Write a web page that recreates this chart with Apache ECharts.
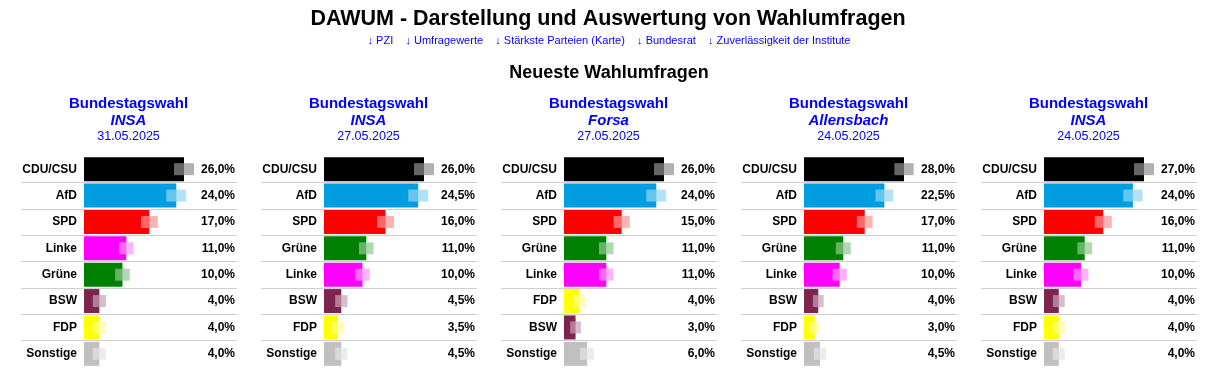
<!DOCTYPE html>
<html>
<head>
<meta charset="utf-8">
<script src="https://cdn.jsdelivr.net/npm/echarts@6/dist/echarts.min.js"></script>
<style>
  html, body { margin: 0; background: #fff; }
  #chart { width: 1214px; height: 375px; }
</style>
</head>
<body>
<div id="chart"></div>
<script>
// Umfragen (Reihenfolge wie im Bild)
const institutes = ['INSA', 'INSA', 'Forsa', 'Allensbach', 'INSA'];
const dates = ['31.05.2025', '27.05.2025', '27.05.2025', '24.05.2025', '24.05.2025'];
const parties = [
  ['CDU/CSU', 'AfD', 'SPD', 'Linke', 'Grüne', 'BSW', 'FDP', 'Sonstige'],
  ['CDU/CSU', 'AfD', 'SPD', 'Grüne', 'Linke', 'BSW', 'FDP', 'Sonstige'],
  ['CDU/CSU', 'AfD', 'SPD', 'Grüne', 'Linke', 'FDP', 'BSW', 'Sonstige'],
  ['CDU/CSU', 'AfD', 'SPD', 'Grüne', 'Linke', 'BSW', 'FDP', 'Sonstige'],
  ['CDU/CSU', 'AfD', 'SPD', 'Grüne', 'Linke', 'BSW', 'FDP', 'Sonstige']
];
const values = [
  [26, 24, 17, 11, 10, 4, 4, 4],
  [26, 24.5, 16, 11, 10, 4.5, 3.5, 4.5],
  [26, 24, 15, 11, 11, 4, 3, 6],
  [28, 22.5, 17, 11, 10, 4, 3, 4.5],
  [27, 24, 16, 11, 10, 4, 4, 4]
];
// halbe Breite des hellen Kastens (Fehlerbereich), in Prozentpunkten
const margins = [
  [2.6, 2.6, 2.2, 1.9, 1.9, 1.7, 1.7, 1.7],
  [2.6, 2.6, 2.2, 1.9, 1.9, 1.6, 1.5, 1.6],
  [2.6, 2.6, 2.1, 1.9, 1.9, 1.6, 1.4, 1.8],
  [2.7, 2.5, 2.2, 2.1, 2.0, 1.5, 1.5, 1.7],
  [2.7, 2.6, 2.3, 2.0, 2.0, 1.6, 1.6, 1.6]
];
const links = ['↓ PZI', '↓ Umfragewerte', '↓ Stärkste Parteien (Karte)', '↓ Bundesrat', '↓ Zuverlässigkeit der Institute'];

const partyColors = {
  'CDU/CSU': '#000000',
  'AfD': '#009ee0',
  'SPD': '#ff0000',
  'Linke': '#ff00ff',
  'Grüne': '#008000',
  'BSW': '#7d254f',
  'FDP': '#ffff00',
  'Sonstige': '#c0c0c0'
};

const FONT = "'Liberation Sans', Arial, sans-serif";
const BLUE = '#0000ff';

// Farbe Richtung Weiß mischen (für den halbtransparenten Kasten)
function pale(hex) {
  const n = parseInt(hex.slice(1), 16);
  const c = [(n >> 16) & 255, (n >> 8) & 255, n & 255].map(v => Math.round(v * 0.43 + 255 * 0.57));
  return 'rgb(' + c.join(',') + ')';
}
function fmt(v) {
  return v.toFixed(1).replace('.', ',') + '%';
}

const grids = [], xAxes = [], yAxes = [], series = [], graphics = [];
const TOP = 156, HEIGHT = 211;
const labelStyle = { fontFamily: FONT, fontSize: 12, fontWeight: 'bold', color: '#000' };

institutes.forEach((inst, i) => {
  const x0 = i * 240;
  const max = Math.max(...values[i]);

  // Trennlinien über die ganze Breite
  grids.push({ left: x0 + 21, top: TOP, width: 216, height: HEIGHT });
  xAxes.push({ gridIndex: 2 * i, type: 'value', min: 0, max: 1, show: false });
  yAxes.push({
    gridIndex: 2 * i, type: 'category', inverse: true, data: parties[i],
    axisLine: { show: false }, axisTick: { show: false }, axisLabel: { show: false },
    splitLine: { show: true, showMinLine: false, showMaxLine: false, lineStyle: { color: '#cfcfcf', width: 1 } }
  });

  // Balken
  grids.push({ left: x0 + 84, top: TOP, width: 100, height: HEIGHT });
  xAxes.push({ gridIndex: 2 * i + 1, type: 'value', min: 0, max: max, show: false });
  yAxes.push({
    gridIndex: 2 * i + 1, type: 'category', inverse: true, data: parties[i],
    axisLine: { show: false }, axisTick: { show: false }, splitLine: { show: false },
    axisLabel: Object.assign({ margin: 7 }, labelStyle)
  });
  yAxes.push({
    gridIndex: 2 * i + 1, type: 'category', inverse: true, position: 'right',
    data: values[i].map(fmt),
    axisLine: { show: false }, axisTick: { show: false }, splitLine: { show: false },
    axisLabel: Object.assign({ margin: 51, align: 'right' }, labelStyle)
  });

  series.push({
    type: 'bar', xAxisIndex: 2 * i + 1, yAxisIndex: 3 * i + 1,
    barWidth: 24, silent: true, z: 2,
    data: values[i].map((v, k) => ({ value: v, itemStyle: { color: partyColors[parties[i][k]] } }))
  });
  series.push({
    type: 'custom', xAxisIndex: 2 * i + 1, yAxisIndex: 3 * i + 1,
    silent: true, clip: false, encode: { x: 0, y: 1 }, z: 5,
    data: values[i].map((v, k) => [v, k, margins[i][k]]),
    renderItem: function (params, api) {
      const v = api.value(0), k = api.value(1), m = api.value(2);
      const a = api.coord([v - m, k]);
      const b = api.coord([v + m, k]);
      const col = partyColors[parties[i][params.dataIndex]];
      return {
        type: 'rect',
        z2: 10,
        shape: { x: a[0], y: a[1] - 6, width: b[0] - a[0], height: 12 },
        style: { fill: pale(col), opacity: 0.7 }
      };
    }
  });

  // Kopf jeder Umfrage
  const cx = x0 + 128.5;
  graphics.push(
    { type: 'text', x: cx, y: 104, style: { text: 'Bundestagswahl', font: 'bold 15px ' + FONT, fill: BLUE, align: 'center', verticalAlign: 'middle' } },
    { type: 'text', x: cx, y: 121, style: { text: inst, font: 'italic bold 15px ' + FONT, fill: BLUE, align: 'center', verticalAlign: 'middle' } },
    { type: 'text', x: cx, y: 137, style: { text: dates[i], font: '12.5px ' + FONT, fill: BLUE, align: 'center', verticalAlign: 'middle' } }
  );
});

graphics.push(
  { type: 'text', x: 608, y: 19, style: { text: 'DAWUM - Darstellung und Auswertung von Wahlumfragen', font: 'bold 21.5px ' + FONT, fill: '#000', align: 'center', verticalAlign: 'middle' } },
  { type: 'text', x: 609, y: 41, style: { text: links.join('    '), font: '11px ' + FONT, fill: BLUE, align: 'center', verticalAlign: 'middle' } },
  { type: 'text', x: 609, y: 73, style: { text: 'Neueste Wahlumfragen', font: 'bold 18px ' + FONT, fill: '#000', align: 'center', verticalAlign: 'middle' } }
);

const chart = echarts.init(document.getElementById('chart'));
chart.setOption({
  animation: false,
  backgroundColor: '#fff',
  grid: grids,
  xAxis: xAxes,
  yAxis: yAxes,
  series: series,
  graphic: graphics
});
</script>
</body>
</html>
